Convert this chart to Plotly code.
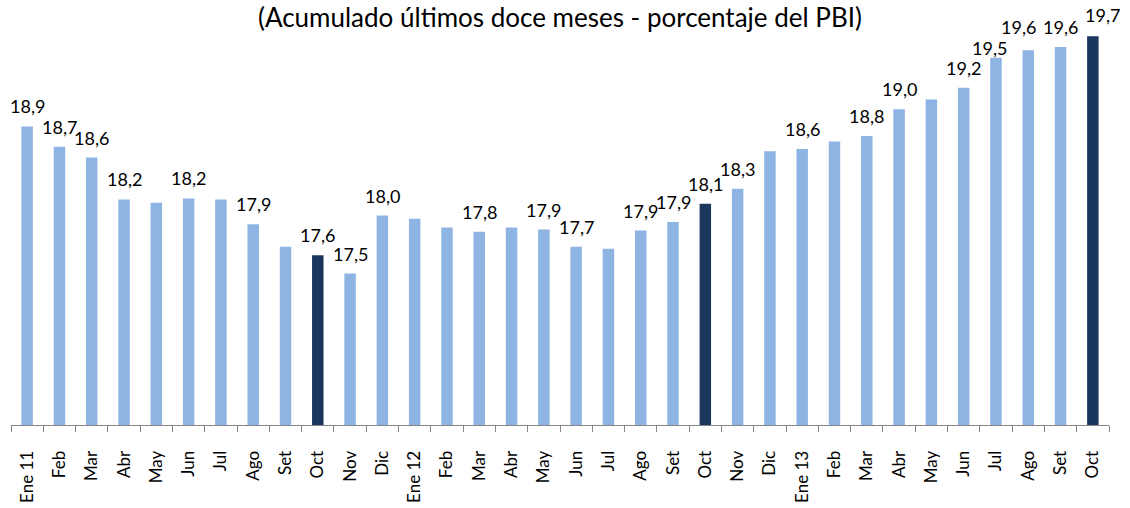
import plotly.graph_objects as go

# ---- data ----
categories = ["Ene 11", "Feb", "Mar", "Abr", "May", "Jun", "Jul", "Ago", "Set", "Oct", "Nov", "Dic",
              "Ene 12", "Feb", "Mar", "Abr", "May", "Jun", "Jul", "Ago", "Set", "Oct", "Nov", "Dic",
              "Ene 13", "Feb", "Mar", "Abr", "May", "Jun", "Jul", "Ago", "Set", "Oct"]

values = [18.88, 18.69, 18.59, 18.20, 18.17, 18.21, 18.20, 17.97, 17.76, 17.68, 17.51, 18.05,
          18.02, 17.94, 17.90, 17.94, 17.92, 17.76, 17.74, 17.91, 17.99, 18.16, 18.30, 18.65,
          18.67, 18.74, 18.79, 19.04, 19.13, 19.24, 19.52, 19.59, 19.62, 19.72]

labels = ["18,9", "18,7", "18,6", "18,2", "", "18,2", "", "17,9", "", "17,6", "17,5", "18,0",
          "", "", "17,8", "", "17,9", "17,7", "", "17,9", "17,9", "18,1", "18,3", "",
          "18,6", "", "18,8", "19,0", "", "19,2", "19,5", "19,6", "19,6", "19,7"]

highlight_months = ["Oct"]

title_text = "(Acumulado últimos doce meses - porcentaje del PBI)"

# ---- styling ----
LIGHT = "#8EB4E3"
DARK = "#1B365D"
FONT = "Lato"

# label placement tweaks (index -> (xshift px, gap px above bar))
label_tweaks = {30: (-6, 3), 31: (-10, 16), 33: (10, 14)}
DEFAULT_GAP = 13

x = list(range(len(categories)))
colors = [DARK if c in highlight_months else LIGHT for c in categories]

fig = go.Figure()
fig.add_trace(go.Bar(
    x=x, y=values,
    marker=dict(color=colors, line=dict(width=0)),
    hoverinfo="skip",
))

for i, (v, lab) in enumerate(zip(values, labels)):
    if not lab:
        continue
    dx, gap = label_tweaks.get(i, (0, DEFAULT_GAP))
    fig.add_annotation(
        x=i, y=v, xref="x", yref="y", text=lab, showarrow=False,
        xanchor="center", yanchor="bottom", xshift=dx, yshift=gap - 6,
        font=dict(family=FONT, size=18, color="#000000"),
    )

fig.add_annotation(
    x=0.5, y=1.0759, xref="paper", yref="paper", text=title_text, showarrow=False,
    xanchor="center", yanchor="top", borderpad=0,
    font=dict(family=FONT, size=26, color="#000000"),
)

fig.update_layout(
    width=1130, height=508,
    margin=dict(l=11, r=21, t=30, b=83, autoexpand=False),
    paper_bgcolor="white", plot_bgcolor="white",
    bargap=0.645,
    showlegend=False,
    xaxis=dict(
        range=[-0.5, len(categories) - 0.5],
        tickmode="array", tickvals=x, ticktext=categories,
        tickangle=-90, ticks="",
        ticklabelstandoff=18,
        automargin=False,
        tickfont=dict(family=FONT, size=17, color="#000000"),
        showline=True, linecolor="#868686", linewidth=1,
        showgrid=False, zeroline=False,
        minor=dict(tick0=-0.5, dtick=1, ticks="outside", ticklen=6,
                   tickcolor="#868686", tickwidth=1, showgrid=False),
    ),
    yaxis=dict(range=[16.1, 19.778], visible=False, showgrid=False, zeroline=False,
               automargin=False),
)

fig.write_html("out.html")
